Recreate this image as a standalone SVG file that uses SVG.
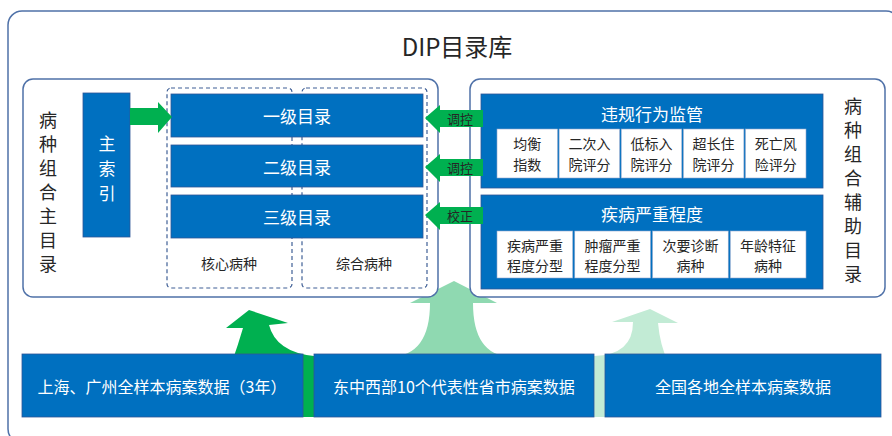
<svg xmlns="http://www.w3.org/2000/svg" width="892" height="436" viewBox="0 0 892 436">
<style>
text{font-family:"Noto Sans CJK SC","Liberation Sans",sans-serif;dominant-baseline:central;text-anchor:middle}
.frame{fill:#fff;stroke:#4F71A8;stroke-width:1.5}
.blue{fill:#0070C0;stroke:#2F5597;stroke-width:0.8}
.dash{fill:none;stroke:#3F5F96;stroke-width:1.2;stroke-dasharray:4 3}
.cell{fill:#fff;stroke:#8FA6CC;stroke-width:0.6}
.w{fill:#fff}
.k{fill:#262626}
.g{fill:#00B050}
.lbl{font-size:14px;fill:#262626}
.cellt{font-size:14px;fill:#262626}
.vt{font-size:18px;fill:#262626}
.bt{font-size:16px;fill:#fff}
</style>
<rect class="frame" x="8" y="11" width="892" height="432" rx="14"/>
<text x="457" y="45" style="font-size:24px" class="k">DIP目录库</text>

<g id="connectors">
<path id="arrow-up-1" class="g" d="M303,417 L303,362 L232,362 Q238,345 243,328 L226,328 L249,310 L288,323 L269,325 Q276,352 314,356 L314,417 Z"/>
<path id="arrow-up-2" fill="#8FD9B1" d="M390,357 Q430,356 430,303 L410,303 L454,281 L497,303 L473,303 Q473,356 512,357 Z"/>
<path id="arrow-up-3" fill="#C2EBD5" d="M594,417 L594,356 Q633,355 633,322 L612,322 L650,309 L678,323 L658,323 Q660,345 668,362 L605,362 L605,417 Z"/>
</g>

<g id="main-catalog">
<rect class="frame" x="23" y="79" width="415" height="218" rx="10"/>
<g class="vt">
<text x="48" y="119">病</text><text x="48" y="143">种</text><text x="48" y="167">组</text><text x="48" y="191">合</text><text x="48" y="215">主</text><text x="48" y="239">目</text><text x="48" y="263">录</text>
</g>
</g>

<g id="main-index">
<rect class="blue" x="83" y="93" width="47" height="144"/>
<text x="107" y="142" class="bt" style="font-size:17px">主</text>
<text x="107" y="167" class="bt" style="font-size:17px">索</text>
<text x="107" y="192" class="bt" style="font-size:17px">引</text>
</g>

<g id="core-diseases">
<rect class="dash" x="167" y="88" width="125" height="200" rx="4"/>
<text x="229" y="263" class="lbl">核心病种</text>
</g>
<g id="general-diseases">
<rect class="dash" x="302" y="88" width="125" height="200" rx="4"/>
<text x="364" y="263" class="lbl">综合病种</text>
</g>

<g id="level-1"><rect class="blue" x="171" y="94" width="252" height="43"/><text x="297" y="115.5" class="bt" style="font-size:17px">一级目录</text></g>
<g id="level-2"><rect class="blue" x="171" y="145" width="252" height="42"/><text x="297" y="166" class="bt" style="font-size:17px">二级目录</text></g>
<g id="level-3"><rect class="blue" x="171" y="195" width="252" height="43"/><text x="297" y="216.5" class="bt" style="font-size:17px">三级目录</text></g>

<g id="aux-catalog">
<rect class="frame" x="470" y="79" width="415" height="218" rx="10"/>
<g class="vt">
<text x="853" y="105">病</text><text x="853" y="129">种</text><text x="853" y="153">组</text><text x="853" y="177">合</text><text x="853" y="201">辅</text><text x="853" y="225">助</text><text x="853" y="249">目</text><text x="853" y="273">录</text>
</g>
</g>

<g id="violation-supervision">
<rect class="blue" x="481" y="94" width="342" height="94"/>
<text x="652" y="113" class="bt" style="font-size:17px">违规行为监管</text>
<rect class="cell" x="497" y="129" width="60.6" height="49"/>
<rect class="cell" x="559.1" y="129" width="60.6" height="49"/>
<rect class="cell" x="621.2" y="129" width="60.6" height="49"/>
<rect class="cell" x="683.3" y="129" width="60.6" height="49"/>
<rect class="cell" x="745.4" y="129" width="60.6" height="49"/>
<g class="cellt">
<text x="527.3" y="143">均衡</text><text x="527.3" y="164">指数</text>
<text x="589.4" y="143">二次入</text><text x="589.4" y="164">院评分</text>
<text x="651.5" y="143">低标入</text><text x="651.5" y="164">院评分</text>
<text x="713.6" y="143">超长住</text><text x="713.6" y="164">院评分</text>
<text x="775.7" y="143">死亡风</text><text x="775.7" y="164">险评分</text>
</g>
</g>

<g id="disease-severity">
<rect class="blue" x="481" y="195" width="342" height="94"/>
<text x="652" y="213" class="bt" style="font-size:17px">疾病严重程度</text>
<rect class="cell" x="497" y="231" width="75.75" height="47"/>
<rect class="cell" x="574.75" y="231" width="75.75" height="47"/>
<rect class="cell" x="652.5" y="231" width="75.75" height="47"/>
<rect class="cell" x="730.25" y="231" width="75.75" height="47"/>
<g class="cellt">
<text x="534.9" y="245">疾病严重</text><text x="534.9" y="265">程度分型</text>
<text x="612.6" y="245">肿瘤严重</text><text x="612.6" y="265">程度分型</text>
<text x="690.4" y="245">次要诊断</text><text x="690.4" y="265">病种</text>
<text x="768.1" y="245">年龄特征</text><text x="768.1" y="265">病种</text>
</g>
</g>

<g id="side-connectors">
<path id="arrow-index" class="g" d="M130,108 L158,108 L158,102 L172,117 L158,133 L158,125 L130,125 Z"/>
<g id="arrow-adjust-1"><path class="g" d="M483,110 L440,110 L440,105 L425,118 L440,133 L440,127 L483,127 Z"/><text x="460" y="118" style="font-size:13px" class="k">调控</text></g>
<g id="arrow-adjust-2"><path class="g" d="M483,159 L440,159 L440,154 L425,167 L440,182 L440,176 L483,176 Z"/><text x="460" y="167" style="font-size:13px" class="k">调控</text></g>
<g id="arrow-correct"><path class="g" d="M483,207 L440,207 L440,202 L425,215 L440,230 L440,224 L483,224 Z"/><text x="460" y="215" style="font-size:13px" class="k">校正</text></g>
</g>

<g id="data-shanghai-guangzhou"><rect class="blue" x="22" y="354" width="281" height="63"/><text x="162" y="386" class="bt">上海、广州全样本病案数据（3年）</text></g>
<g id="data-ten-provinces"><rect class="blue" x="314" y="354" width="280" height="63"/><text x="454" y="386" class="bt">东中西部10个代表性省市病案数据</text></g>
<g id="data-national"><rect class="blue" x="605" y="354" width="276" height="63"/><text x="743" y="386" class="bt">全国各地全样本病案数据</text></g>
</svg>
